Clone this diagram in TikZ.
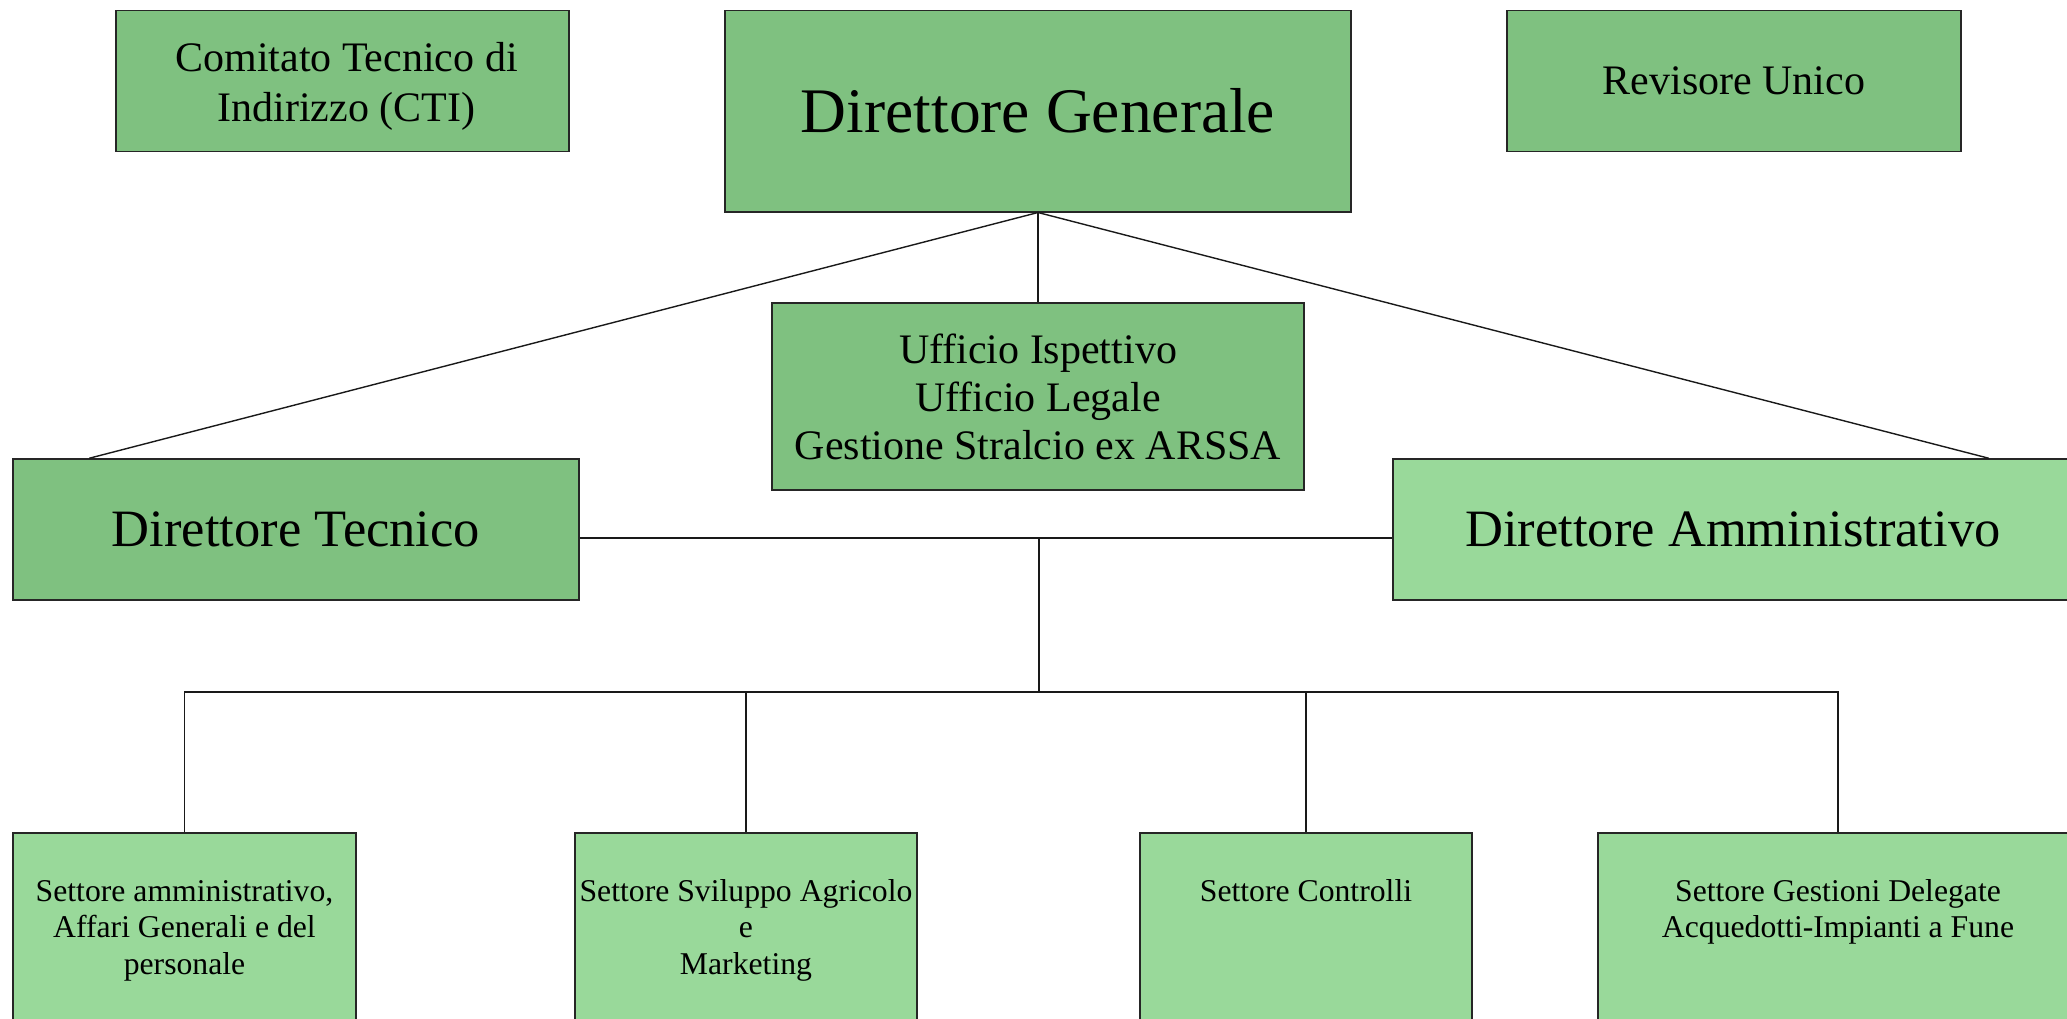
\documentclass[tikz,border=0pt]{standalone}
\usepackage{fontspec}
\setmainfont{Liberation Serif}
\definecolor{gdark}{HTML}{7FC180}
\definecolor{glight}{HTML}{99D99A}
\begin{document}
\begin{tikzpicture}[x=1pt,y=-1pt,
  box/.style={draw=black!85, line width=1.5pt, inner sep=0pt, align=center, rectangle},
  dark/.style={box, fill=gdark},
  light/.style={box, fill=glight},
  txt/.style={inner sep=0pt, align=center, anchor=north},
  conn/.style={draw=black!90, line width=1.4pt}]
\useasboundingbox (0,0) rectangle (2067,1018);
\clip (0,0) rectangle (2067,1018);
% top row
\node[dark, minimum width=453pt, minimum height=141pt] (cti) at (342.5,81) {};
\node[inner sep=0pt, align=center, font=\fontsize{42}{50}\selectfont] (ctit) at ([xshift=4pt,yshift=-5pt]cti.center) {Comitato Tecnico di\\Indirizzo (CTI)};
\node[dark, minimum width=626pt, minimum height=201.5pt, font=\fontsize{63.5}{70}\selectfont] (dg) at (1038,111) {Direttore Generale};
\node[dark, minimum width=454pt, minimum height=141pt, font=\fontsize{42}{50}\selectfont] (rev) at (1734,81) {Revisore Unico};
% middle
\node[dark, minimum width=532pt, minimum height=187pt, font=\fontsize{42}{48}\selectfont] (uff) at (1038,396.5) {Ufficio Ispettivo\\Ufficio Legale\\Gestione Stralcio ex ARSSA};
\node[dark, minimum width=566pt, minimum height=141pt, font=\fontsize{52.5}{60}\selectfont] (dt) at (296,529.5) {Direttore Tecnico};
\node[light, minimum width=680pt, minimum height=141pt, font=\fontsize{52.5}{60}\selectfont] (da) at (1733,529.5) {Direttore Amministrativo};
% bottom boxes
\node[light, minimum width=343pt, minimum height=220pt, anchor=north] (b1) at (184.5,832) {};
\node[light, minimum width=342pt, minimum height=220pt, anchor=north] (b2) at (746,832) {};
\node[light, minimum width=332pt, minimum height=220pt, anchor=north] (b3) at (1306,832) {};
\node[light, minimum width=480pt, minimum height=220pt, anchor=north] (b4) at (1838,832) {};
\node[txt, font=\fontsize{31.7}{36.5}\selectfont] (t1) at (184.5,871) {\rule{0pt}{30pt}Settore amministrativo,\\Affari Generali e del\\personale};
\node[txt, font=\fontsize{31.7}{36.5}\selectfont] (t2) at (746,871) {\rule{0pt}{30pt}Settore Sviluppo Agricolo\\e\\Marketing};
\node[txt, font=\fontsize{31.7}{36.5}\selectfont] (t3) at (1306,871) {\rule{0pt}{30pt}Settore Controlli};
\node[txt, font=\fontsize{31.7}{36.5}\selectfont] (t4) at (1838,871) {\rule{0pt}{30pt}Settore Gestioni Delegate\\Acquedotti-Impianti a Fune};
% connectors
\coordinate (hub) at (1039,538);
\coordinate (bus) at (1039,692);
\draw[conn] (dg.south) -- ([xshift=77pt]dt.north west);
\draw[conn] (dg.south) -- ([xshift=-85pt]da.north east);
\draw[conn] (dg.south) -- (uff.north);
\draw[conn] (dt.east |- hub) -- (da.west |- hub);
\draw[conn] (hub) -- (bus);
\draw[conn] (b1.north) -- (b1.north |- bus) -- (b4.north |- bus) -- (b4.north);
\draw[conn] (b2.north |- bus) -- (b2.north);
\draw[conn] (b3.north |- bus) -- (b3.north);
\end{tikzpicture}
\end{document}
